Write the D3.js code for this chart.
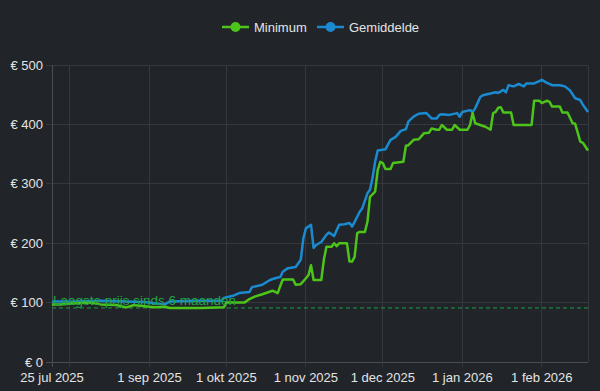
<!DOCTYPE html>
<html>
<head>
<meta charset="utf-8">
<script src="https://cdn.jsdelivr.net/npm/d3@7"></script>
<style>
  body { margin: 0; background: #212428; }
  svg text { font-family: "Liberation Sans", Arial, sans-serif; }
</style>
</head>
<body>
<svg id="chart" width="600" height="391"></svg>
<script>
// Series data
const minDates = ["2025-07-25","2025-07-28","2025-08-03","2025-08-09","2025-08-13","2025-08-19","2025-08-23","2025-08-26","2025-08-30","2025-09-03","2025-09-07","2025-09-09","2025-09-21","2025-09-30","2025-10-01","2025-10-08","2025-10-10","2025-10-12","2025-10-15","2025-10-17","2025-10-19","2025-10-21","2025-10-22","2025-10-23","2025-10-27","2025-10-28","2025-10-30","2025-10-31","2025-11-01","2025-11-02","2025-11-03","2025-11-04","2025-11-07","2025-11-08","2025-11-09","2025-11-11","2025-11-12","2025-11-13","2025-11-14","2025-11-17","2025-11-18","2025-11-19","2025-11-20","2025-11-21","2025-11-22","2025-11-24","2025-11-25","2025-11-26","2025-11-28","2025-11-29","2025-11-30","2025-12-01","2025-12-02","2025-12-04","2025-12-05","2025-12-09","2025-12-10","2025-12-11","2025-12-13","2025-12-15","2025-12-17","2025-12-19","2025-12-20","2025-12-22","2025-12-23","2025-12-24","2025-12-26","2025-12-28","2025-12-29","2025-12-31","2026-01-03","2026-01-04","2026-01-05","2026-01-06","2026-01-08","2026-01-10","2026-01-12","2026-01-13","2026-01-14","2026-01-15","2026-01-16","2026-01-17","2026-01-20","2026-01-21","2026-01-28","2026-01-29","2026-01-31","2026-02-01","2026-02-03","2026-02-04","2026-02-05","2026-02-08","2026-02-09","2026-02-11","2026-02-13","2026-02-14","2026-02-16","2026-02-17","2026-02-19"];
const minValues = [97,97,99,100,97,96,92,96,94,92,93,91,91,92,100,100,106,110,114,117,120,116,128,139,139,130,131,136,141,146,163,138,138,172,194,194,200,195,200,200,169,169,177,217,219,219,236,278,287,323,337,335,325,325,335,337,364,365,374,375,385,386,393,391,391,399,391,391,399,391,391,399,419,402,399,396,391,419,421,428,429,420,420,399,399,440,440,436,440,438,430,430,420,420,402,401,371,369,356];

const avgDates = ["2025-07-25","2025-08-03","2025-08-13","2025-08-23","2025-08-30","2025-09-03","2025-09-07","2025-09-09","2025-09-21","2025-09-29","2025-09-30","2025-10-04","2025-10-06","2025-10-10","2025-10-11","2025-10-15","2025-10-18","2025-10-20","2025-10-22","2025-10-23","2025-10-25","2025-10-28","2025-10-30","2025-10-31","2025-11-01","2025-11-03","2025-11-04","2025-11-05","2025-11-07","2025-11-09","2025-11-10","2025-11-12","2025-11-13","2025-11-14","2025-11-16","2025-11-18","2025-11-19","2025-11-20","2025-11-22","2025-11-23","2025-11-25","2025-11-26","2025-11-27","2025-11-28","2025-11-29","2025-12-02","2025-12-04","2025-12-06","2025-12-08","2025-12-10","2025-12-11","2025-12-13","2025-12-15","2025-12-18","2025-12-20","2025-12-22","2025-12-23","2025-12-24","2025-12-27","2025-12-30","2025-12-31","2026-01-01","2026-01-04","2026-01-05","2026-01-06","2026-01-08","2026-01-09","2026-01-12","2026-01-14","2026-01-15","2026-01-17","2026-01-18","2026-01-19","2026-01-21","2026-01-23","2026-01-25","2026-01-26","2026-01-29","2026-01-31","2026-02-01","2026-02-03","2026-02-05","2026-02-08","2026-02-10","2026-02-12","2026-02-14","2026-02-16","2026-02-17","2026-02-19"];
const avgValues = [102,102,103,102,101,99,97,102,103,103,108,112,116,118,126,130,138,141,143,152,158,160,172,208,225,231,192,197,202,214,218,212,222,231,232,234,228,236,253,259,284,290,310,337,356,358,374,379,389,392,405,413,418,419,410,410,416,417,416,419,413,421,424,421,427,446,449,452,454,453,458,454,466,464,468,464,469,469,473,475,470,466,466,464,457,444,441,433,421];

const seriesNames = ["Minimum", "Gemiddelde"];
const seriesColors = ["#4cc41a", "#1a8bd0"];

// axis ticks
const yTicks = [0, 100, 200, 300, 400, 500];
const xTickDates = ["2025-07-25","2025-09-01","2025-10-01","2025-11-01","2025-12-01","2026-01-01","2026-02-01"];
const xTickLabels = ["25 jul 2025","1 sep 2025","1 okt 2025","1 nov 2025","1 dec 2025","1 jan 2026","1 feb 2026"];
const gridDates = ["2025-08-01","2025-09-01","2025-10-01","2025-11-01","2025-12-01","2026-01-01","2026-02-01"];
const xDomain = ["2025-07-25", "2026-02-19"];

// annotation
const lowestPrice = 91;
const lowestLabel = "Laagste prijs sinds 6 maanden";

const parse = d3.timeParse("%Y-%m-%d");

const margin = { top: 65, right: 12, bottom: 29, left: 52 };
const width = 600 - margin.left - margin.right;
const height = 391 - margin.top - margin.bottom;

const svg = d3.select("#chart");
const g = svg.append("g").attr("transform", `translate(${margin.left},${margin.top})`);

const x = d3.scaleTime().domain(xDomain.map(parse)).range([0, width]);
const y = d3.scaleLinear().domain([0, 500]).range([height, 0]);

const gridColor = "#35383d";
const axisColor = "#4a4d53";
const textColor = "#e4e4e4";

// horizontal grid
g.selectAll(".hgrid").data(yTicks).join("line")
  .attr("x1", -6).attr("x2", width)
  .attr("y1", d => y(d)).attr("y2", d => y(d))
  .attr("stroke", d => d === 0 ? axisColor : gridColor)
  .attr("stroke-width", 1)
  .attr("shape-rendering", "crispEdges");

// vertical grid
g.selectAll(".vgrid").data(gridDates.map(parse)).join("line")
  .attr("x1", d => x(d)).attr("x2", d => x(d))
  .attr("y1", 0).attr("y2", height + 5)
  .attr("stroke", gridColor)
  .attr("shape-rendering", "crispEdges");

// right border
g.append("line")
  .attr("x1", width).attr("x2", width)
  .attr("y1", 0).attr("y2", height)
  .attr("stroke", gridColor)
  .attr("shape-rendering", "crispEdges");

// left axis line
g.append("line")
  .attr("x1", 0).attr("x2", 0)
  .attr("y1", 0).attr("y2", height + 5)
  .attr("stroke", axisColor)
  .attr("shape-rendering", "crispEdges");

// y labels
g.selectAll(".ylab").data(yTicks).join("text")
  .attr("x", -9)
  .attr("y", d => y(d))
  .attr("dy", "0.35em")
  .attr("text-anchor", "end")
  .attr("fill", textColor)
  .style("font-size", "13px")
  .text(d => "€ " + d);

// x labels
g.selectAll(".xlab").data(xTickDates).join("text")
  .attr("x", d => x(parse(d)))
  .attr("y", height + 20)
  .attr("text-anchor", "middle")
  .attr("fill", textColor)
  .style("font-size", "13px")
  .text((d, i) => xTickLabels[i]);

// lowest price line
g.append("line")
  .attr("x1", 0).attr("x2", width)
  .attr("y1", y(lowestPrice)).attr("y2", y(lowestPrice))
  .attr("stroke", "#1f9e45")
  .attr("stroke-width", 1)
  .attr("stroke-dasharray", "4,3");

// series lines (Minimum on top)
const line = d3.line()
  .x(d => x(d.date))
  .y(d => y(d.value));

const series = [
  { name: seriesNames[0], color: seriesColors[0], values: minDates.map((d, i) => ({ date: parse(d), value: minValues[i] })) },
  { name: seriesNames[1], color: seriesColors[1], values: avgDates.map((d, i) => ({ date: parse(d), value: avgValues[i] })) }
];

series.slice().reverse().forEach(s => {
  g.append("path")
    .datum(s.values)
    .attr("fill", "none")
    .attr("stroke", s.color)
    .attr("stroke-width", 2.5)
    .attr("stroke-linejoin", "round")
    .attr("d", line);
});

g.append("text")
  .attr("x", 1)
  .attr("y", y(lowestPrice) - 3)
  .attr("fill", "#22a447")
  .style("font-size", "13.5px")
  .text(lowestLabel);

// legend
const legendX = [222, 317];
const legend = svg.append("g");
series.forEach((s, i) => {
  const lg = legend.append("g").attr("transform", `translate(${legendX[i]},27)`);
  lg.append("line").attr("x1", 0).attr("x2", 27).attr("stroke", s.color).attr("stroke-width", 2.5);
  lg.append("circle").attr("cx", 13.5).attr("r", 5).attr("fill", s.color);
  lg.append("text").attr("x", 32).attr("dy", "0.35em")
    .attr("fill", textColor).style("font-size", "13px").text(s.name);
});
</script>
</body>
</html>
